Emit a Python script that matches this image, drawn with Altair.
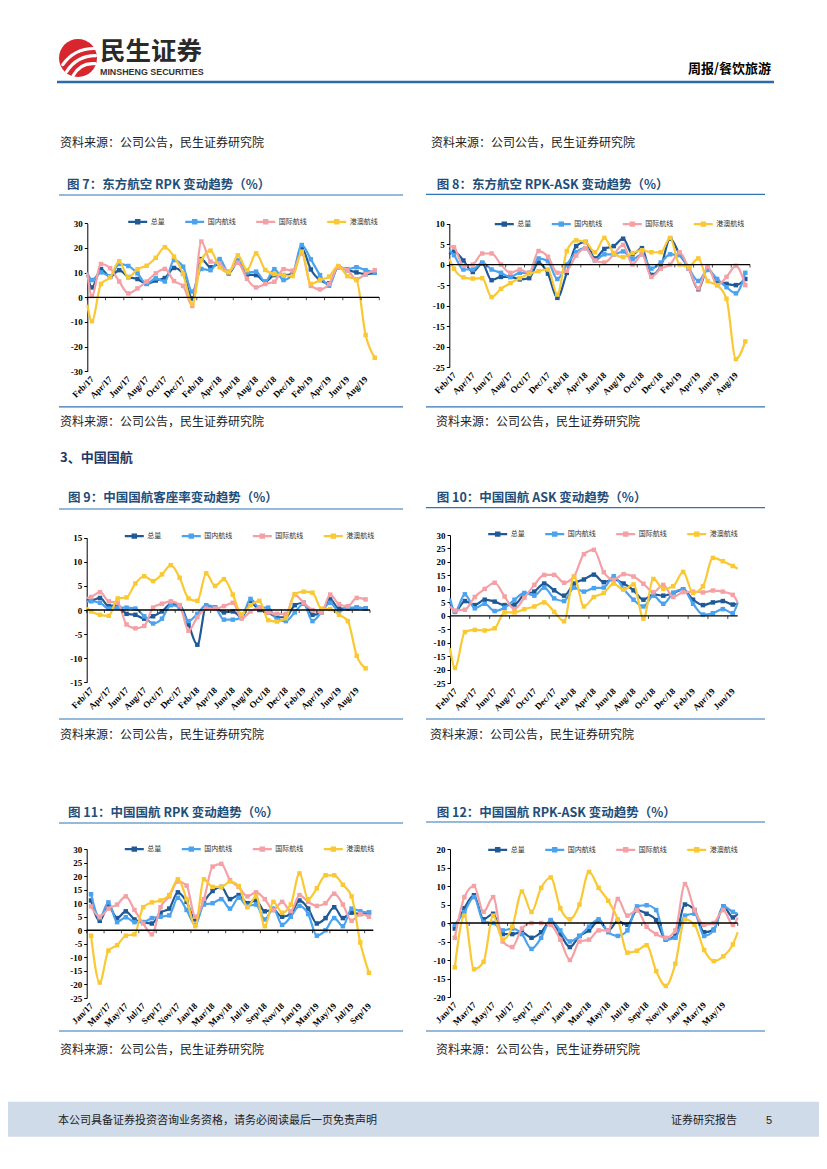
import json
import altair as alt
import pandas as pd

W, H = 811, 1153
CJK = "Noto Sans CJK SC"
SERIF = "Liberation Serif"

SERIES = ["总量", "国内航线", "国际航线", "港澳航线"]
COLORS = ["#1f5a96", "#4ba3ef", "#f4a0a5", "#fac832"]
LINE_BLUE = "#2e75b6"
TITLE_BLUE = "#1f4e79"

M_FEB17 = ["Feb/17", "Mar/17", "Apr/17", "May/17", "Jun/17", "Jul/17", "Aug/17", "Sep/17",
           "Oct/17", "Nov/17", "Dec/17", "Jan/18", "Feb/18", "Mar/18", "Apr/18", "May/18",
           "Jun/18", "Jul/18", "Aug/18", "Sep/18", "Oct/18", "Nov/18", "Dec/18", "Jan/19",
           "Feb/19", "Mar/19", "Apr/19", "May/19", "Jun/19", "Jul/19", "Aug/19", "Sep/19"]
M_JAN17 = ["Jan/17", "Feb/17", "Mar/17", "Apr/17", "May/17", "Jun/17", "Jul/17", "Aug/17",
           "Sep/17", "Oct/17", "Nov/17", "Dec/17", "Jan/18", "Feb/18", "Mar/18", "Apr/18",
           "May/18", "Jun/18", "Jul/18", "Aug/18", "Sep/18", "Oct/18", "Nov/18", "Dec/18",
           "Jan/19", "Feb/19", "Mar/19", "Apr/19", "May/19", "Jun/19", "Jul/19", "Aug/19", "Sep/19"]

# ---- Fig 7: China Eastern RPK (%) ----
f7_total = [4, 11.4, 8.3, 11, 8.2, 7.4, 5.5, 6.8, 7.8, 11.9, 9.5, -0.5, 15.5, 12.2, 13.5, 9.7,
            14.2, 9.2, 9, 6.3, 9, 9, 9.4, 19.9, 11.3, 7, 5.7, 12.2, 11, 10.1, 9.4, 10]
f7_dom = [7, 10.1, 8.5, 13.5, 12.7, 9.7, 5.4, 7.7, 6.4, 15.1, 12.4, 2.3, 11.5, 11, 15.5, 10,
          15, 10, 10.4, 6.3, 11.4, 7, 9.4, 21.2, 15.4, 9, 4.7, 12.4, 11.4, 12.2, 11, 10]
f7_intl = [0.5, 13.5, 11.8, 6.4, 1.6, 3.6, 6.4, 9.7, 11.5, 6.6, 4.6, -3.5, 22.6, 14.5, 13.5, 10.5,
           14, 7.5, 4, 5.4, 6.3, 11.4, 10.8, 17.8, 4.6, 3.2, 5.4, 12.2, 11, 7.3, 9.4, 11]
f7_hkmo = [-9.7, 5.4, 8.1, 14.6, 8.1, 11.4, 12.8, 16, 20.3, 16.5, 9.5, -2.7, 14.9, 18.9, 12.2, 10.1,
           17, 11, 17.8, 11.1, 9.4, 9, 8.6, 18.5, 5.4, 7, 8.4, 12.7, 8.6, 7, -15.3, -24.5]
f7_lead = [9, 10, 10, -3]

# ---- Fig 8: China Eastern RPK-ASK (%) ----
f8_total = [3.2, 1.0, -1.8, 0.3, -3.8, -3.0, -3.0, -3.6, -3.3, 0.5, -2.2, -8.1, -2.0, 4.5, 5.5, 1.5,
            3.8, 4.5, 6.3, 2.5, 4.0, -2.5, -0.5, 6.3, 2.5, -1.0, -6.0, -1.0, -4.0, -4.7, -5.0, -3.5]
f8_dom = [2.3, -1.2, -1.2, 0.5, -1.2, -2.0, -3.0, -2.0, -2.0, 1.5, 0.8, -3.5, 0.0, 3.0, 4.0, 1.0,
          2.5, 2.5, 3.2, 1.3, 2.5, -1.0, 0.5, 2.5, 2.3, -1.0, -4.0, -1.3, -3.5, -5.5, -7.0, -2.0]
f8_intl = [4.2, -0.3, 0.0, 2.7, 2.7, 0.0, -2.0, -1.2, -2.0, 3.3, 1.9, -2.0, -1.5, 2.2, 4.0, 1.0,
           0.5, 2.5, 4.8, 0.0, 2.5, -3.0, -1.0, 0.0, 3.0, -1.0, -5.8, -0.5, -5.0, -3.0, -0.3, -5.0]
f8_hkmo = [-1.0, -3.1, -3.4, -3.3, -7.9, -5.9, -4.5, -3.3, -2.3, -1.6, -1.2, -7.3, 3.3, 5.9, 5.5, 3.0,
           6.5, 2.8, 1.8, 2.8, 3.5, 3.0, 3.0, 6.5, 0.0, -0.5, 1.5, -4.0, -5.0, -8.3, -23.0, -18.7]
f8_lead = [2.5, 3.5, 4.5, 1.4]

# ---- Fig 9: Air China load factor change (%) ----
f9_total = [2.0, 2.5, 0.8, 1.0, -0.8, -1.0, -1.8, -1.3, -0.3, 1.2, 1.0, -3.0, -7.2, 0.8, 0.5, -0.5,
            -0.3, -1.5, 1.5, 0.0, -0.5, -1.5, -1.5, 1.0, 1.5, -1.0, -0.5, 2.2, 0.3, 0.3, 0.5, 0.3]
f9_dom = [1.8, 1.5, 0.3, 0.5, 0.5, 0.3, -1.3, -2.8, -1.8, 1.0, 0.5, -2.3, -0.8, 1.0, 0.5, -2.0,
          -2.0, -1.5, 2.3, 0.5, 0.5, -2.0, -2.3, -0.5, 1.3, -2.3, -0.5, 1.5, -0.3, 0.5, 0.5, 0.3]
f9_intl = [2.7, 3.7, 1.8, 1.5, -3.0, -3.8, -3.3, 0.5, 1.3, 1.8, 1.0, -4.3, -1.5, 0.3, 0.3, 0.8,
           1.5, -1.8, -0.3, 0.5, -0.5, -0.8, -0.8, 3.2, 1.5, 0.0, -0.5, 3.2, 1.2, 0.8, 2.5, 2.2]
f9_hkmo = [-0.3, -1.0, -1.2, 2.4, 2.6, 5.5, 7.0, 6.0, 7.4, 9.3, 6.7, 2.4, 1.9, 7.6, 5.0, 6.4,
           3.2, -0.9, 1.0, 1.9, -2.1, -2.4, -1.7, 3.3, 3.8, 3.6, 0.3, 0.2, -1.0, -2.3, -9.5, -12.1]
f9_lead = [2.0, 1.8, 2.5, 0.5]

# ---- Fig 10: Air China ASK (%) ----
f10_total = [1.5, 5.5, 4.0, 6.0, 5.3, 4.0, 4.2, 8.0, 9.0, 12.0, 9.5, 7.5, 12.0, 13.5, 15.3,
             12.5, 13.5, 12.0, 9.5, 6.0, 8.0, 7.5, 8.5, 9.8, 6.0, 4.0, 5.0, 5.5, 4.2]
f10_dom = [1.5, 8.0, 2.8, 4.5, 1.8, 3.0, 6.0, 8.5, 7.5, 10.5, 6.5, 5.5, 10.5, 9.0, 10.3,
           10.5, 14.7, 10.0, 6.0, 3.5, 7.5, 4.5, 8.5, 9.8, 4.5, 0.5, 1.0, 2.5, 1.0]
f10_intl = [2.0, 2.3, 7.0, 10.0, 12.3, 7.2, 2.5, 6.8, 11.5, 15.2, 15.2, 12.3, 14.6, 22.9, 24.5,
            16.2, 13.4, 15.5, 14.6, 11.9, 8.8, 11.5, 7.0, 8.8, 9.0, 8.7, 9.4, 9.0, 7.8]
f10_hkmo = [-19.3, -6.0, -5.2, -5.4, -4.6, 1.3, 1.3, 2.5, 3.5, 5.0, 1.5, -2.0, 14.5, 3.5, 7.0,
            8.5, 12.0, 9.7, 11.7, -1.0, 13.7, 10.0, 11.0, 16.3, 8.5, 11.0, 21.5, 20.3, 18.5]
f10_lead = [5.0, 6.5, 3.5, -12.0]
f10_trail = [4.5, 5.0, 5.0, 17.5]

# ---- Fig 11: Air China RPK (%) ----
f11_total = [11.0, 3.5, 9.0, 4.5, 7.0, 4.0, 3.0, 2.5, 6.5, 8.0, 14.0, 10.5, 4.0, 10.5, 14.5, 16.0,
             11.5, 13.0, 10.0, 11.0, 7.0, 7.5, 5.0, 6.0, 11.0, 8.0, 2.5, 4.5, 8.5, 4.5, 6.5, 6.0, 6.5]
f11_dom = [13.3, 4.5, 10.3, 3.0, 4.8, 3.0, 3.0, 4.5, 5.0, 5.5, 12.0, 7.5, 2.0, 9.5, 10.0, 11.5,
           8.0, 12.0, 9.0, 9.5, 4.0, 8.0, 2.0, 5.0, 9.0, 6.0, -2.0, 0.0, 4.5, 1.5, 8.0, 7.0, 6.5]
f11_intl = [8.8, 5.0, 8.0, 9.5, 12.5, 7.5, 2.5, -1.5, 8.5, 12.5, 18.0, 16.5, 5.0, 11.5, 23.5, 24.5,
            18.5, 16.0, 12.5, 14.0, 11.5, 7.5, 10.5, 7.0, 13.0, 10.5, 9.0, 10.0, 13.5, 9.5, 3.5, 6.0, 5.0]
f11_hkmo = [-2.0, -19.3, -7.5, -5.5, -2.0, -1.5, 8.5, 10.3, 11.0, 13.0, 18.8, 11.5, 1.5, 18.8, 16.0, 16.0,
            18.0, 16.3, 8.5, 12.5, 1.5, 10.5, 6.5, 9.5, 21.0, 11.5, 15.5, 20.3, 20.3, 16.8, 12.5, -4.5, -15.7]

# ---- Fig 12: Air China RPK-ASK (%) ----
f12_total = [-1.5, 4.0, 7.5, 1.0, 2.5, -3.0, -3.0, -2.5, -4.0, -2.5, 0.5, -3.0, -6.5, -3.5, -2.0,
             0.5, -2.0, 0.5, -0.5, 3.5, 2.5, 0.8, -4.5, -3.5, 5.0, 3.5, -2.5, -1.8, 4.5, 1.5]
f12_dom = [-0.5, 3.0, 7.0, 0.3, 0.0, -2.0, -1.5, -3.0, -7.0, -4.0, 0.8, -2.0, -5.0, -3.5, -1.0,
           1.0, -2.5, -3.5, -2.0, 4.5, 4.8, 3.5, -4.5, -4.0, 2.0, 2.5, -3.5, -2.0, 4.5, 3.0]
f12_intl = [-4.0, 7.0, 10.0, 3.0, 7.0, -5.0, -6.5, -1.5, 0.0, 0.0, -0.5, -4.5, -10.0, -5.0, -4.5,
            -2.0, -2.0, 6.5, 2.0, 3.5, -1.0, -3.0, -4.0, -2.0, 10.5, 3.5, -0.5, 0.0, 3.5, -0.5]
f12_hkmo = [-12.0, 2.0, -12.5, -10.5, 2.0, -4.5, -1.0, 8.5, 3.0, 9.5, 12.3, 4.0, 1.0, 5.0, 13.8,
            9.5, 6.0, 1.0, -8.0, -7.5, -6.0, -13.0, -17.0, -11.0, 1.0, -0.5, -7.3, -10.3, -9.0, -5.8]
f12_trail = [2.5, 2.5, 1.5, -2.5]

# ---- page texts ----
T7 = "图 7：东方航空 RPK 变动趋势（%）"
T8 = "图 8：东方航空 RPK-ASK 变动趋势（%）"
T9 = "图 9：中国国航客座率变动趋势（%）"
T10 = "图 10：中国国航 ASK 变动趋势（%）"
T11 = "图 11：中国国航 RPK 变动趋势（%）"
T12 = "图 12：中国国航 RPK-ASK 变动趋势（%）"
SRC = "资料来源：公司公告，民生证券研究院"
SECTION = "3、中国国航"
BRAND = "民生证券"
BRAND_EN = "MINSHENG SECURITIES"
HEADER_RIGHT = "周报/餐饮旅游"
FOOT_L = "本公司具备证券投资咨询业务资格，请务必阅读最后一页免责声明"
FOOT_R = "证券研究报告"
PAGE_NO = "5"

ONE = pd.DataFrame({"k": [0]})

LEGEND_PATH = "M-1,0L1,0M-0.16,-0.16L0.16,-0.16L0.16,0.16L-0.16,0.16Z"


def panel(months, vals, lead, trail, ydom, ystep, xr, yr, leg):
    n = len(months)
    recs = []
    for s, arr in zip(SERIES, vals):
        for i, v in enumerate(arr):
            recs.append({"s": s, "x": float(i), "v": v, "pt": 1})
    if lead:
        for s, v in zip(SERIES, lead):
            recs.append({"s": s, "x": -0.5, "v": v, "pt": 0})
    if trail:
        for s, v in zip(SERIES, trail):
            recs.append({"s": s, "x": n - 0.5, "v": v, "pt": 0})
    df = pd.DataFrame(recs)

    xs = alt.Scale(domain=[-0.5, n - 0.5], range=[xr[0], xr[1]], nice=False, zero=False)
    ys = alt.Scale(domain=[ydom[0], ydom[1]], range=[yr[1], yr[0]], nice=False, zero=False)
    xax = alt.Axis(orient="bottom", offset=yr[1] - H, values=list(range(0, n, 2)),
                   labelExpr=json.dumps(months) + "[datum.value]",
                   labelAngle=-45, labelAlign="right", labelBaseline="middle",
                   labelFont=SERIF, labelFontWeight="bold", labelFontSize=9,
                   labelColor="#000000", labelPadding=6, labelOverlap=False,
                   labelFlush=False, ticks=False, domain=False, grid=False, title=None)
    yax = alt.Axis(orient="left", offset=-xr[0],
                   values=list(range(ydom[0], ydom[1] + 1, ystep)),
                   labelExpr="datum.value < 0 ? '-' + (-datum.value) : '' + datum.value",
                   labelFont=SERIF, labelFontWeight="bold", labelFontSize=9,
                   labelColor="#000000", labelPadding=2, tickSize=3, tickColor="#000000",
                   domainColor="#000000", domainWidth=1, grid=False, title=None)
    lg = alt.Legend(orient="none", legendX=leg[0], legendY=leg[1] - 9.5, direction="horizontal",
                    title=None, symbolType=LEGEND_PATH, symbolSize=361, symbolStrokeWidth=2.4,
                    labelFont=CJK, labelFontSize=7, labelColor="#333333", labelOffset=2,
                    columnPadding=15, padding=0, symbolOpacity=1)
    col = alt.Color("s:N", scale=alt.Scale(domain=SERIES, range=COLORS), legend=lg)

    layers = []
    for s in SERIES:
        d = df[df.s == s]
        layers.append(
            alt.Chart(d).mark_line(interpolate="monotone", strokeWidth=2.2).encode(
                x=alt.X("x:Q", scale=xs, axis=xax),
                y=alt.Y("v:Q", scale=ys, axis=yax),
                color=col))
        layers.append(
            alt.Chart(d[d.pt == 1]).mark_square(size=20, opacity=1).encode(
                x=alt.X("x:Q", scale=xs, axis=xax),
                y=alt.Y("v:Q", scale=ys, axis=yax),
                color=col))
    zero = alt.Chart(ONE).mark_rule(color="#000000", strokeWidth=1.3).encode(
        x=alt.XDatum(-0.5, scale=xs, axis=xax),
        x2=alt.X2Datum(n - 0.5),
        y=alt.YDatum(0, scale=ys, axis=yax))
    tick_pos = [t - 0.5 for t in range(0, n + 1, 2)]
    ticks = alt.Chart(pd.DataFrame({"t": tick_pos})).mark_tick(
        orient="vertical", size=3, thickness=1, color="#000000", yOffset=1.5).encode(
        x=alt.X("t:Q", scale=xs, axis=xax),
        y=alt.YDatum(0, scale=ys, axis=yax))
    layers += [zero, ticks]
    return alt.layer(*layers)


def text(x, y, s, size, color="#000000", weight="normal", font=CJK, align="left"):
    return alt.Chart(ONE).mark_text(text=s, fontSize=size, font=font, fontWeight=weight,
                                    color=color, align=align, baseline="middle").encode(
        x=alt.value(x), y=alt.value(y))


def hrule(x1, x2, y, color=LINE_BLUE, width=1.2):
    return alt.Chart(ONE).mark_rule(color=color, strokeWidth=width).encode(
        x=alt.value(x1), x2=alt.value(x2), y=alt.value(y))


def rect(x1, x2, y1, y2, color):
    return alt.Chart(ONE).mark_rect(color=color).encode(
        x=alt.value(x1), x2=alt.value(x2), y=alt.value(y1), y2=alt.value(y2))


decor = [
    # header
    alt.Chart(ONE).mark_point(shape="circle", size=1444, filled=True, color="#d7262e", opacity=1).encode(
        x=alt.value(70), y=alt.value(50)),
    alt.Chart(ONE).mark_point(
        shape="M-0.8,0.35Q-0.2,-0.5 0.85,-0.5M-0.6,0.72Q-0.05,-0.12 0.92,-0.12M-0.25,0.92Q0.15,0.22 0.9,0.3",
        size=1444, filled=False, color="#ffffff", strokeWidth=3.2, opacity=1, strokeCap="round").encode(
        x=alt.value(70), y=alt.value(50)),
    text(92, 44, BRAND, 25.5, color="#2a2a2a", weight="bold"),
    text(92, 63.5, BRAND_EN, 8.9, color="#333333", weight="bold", font="Liberation Sans"),
    text(763, 61, HEADER_RIGHT, 13, weight="bold", align="right"),
    hrule(49, 766, 74, color="#2a6aad", width=2.6),
    text(52, 135, SRC, 12, color="#222222"),
    text(423, 135, SRC, 12, color="#222222"),
    # row 1 titles
    text(59, 177, T7, 12.5, color=TITLE_BLUE, weight="bold"),
    hrule(51, 395, 187),
    text(428.7, 177, T8, 12.5, color=TITLE_BLUE, weight="bold"),
    hrule(418, 757, 186.3),
    hrule(51, 395, 398.8),
    hrule(418, 757, 398.8),
    text(52, 414, SRC, 12, color="#222222"),
    text(428, 414, SRC, 12, color="#222222"),
    text(52, 450, SECTION, 13, color="#1f3864", weight="bold"),
    # row 2 titles
    text(60, 490.3, T9, 12.5, color=TITLE_BLUE, weight="bold"),
    hrule(51, 395, 501),
    text(428.7, 490.3, T10, 12.5, color=TITLE_BLUE, weight="bold"),
    hrule(418, 757, 499.7),
    hrule(51, 395, 711),
    hrule(418, 757, 711),
    text(52, 727, SRC, 12, color="#222222"),
    text(422, 727, SRC, 12, color="#222222"),
    # row 3 titles
    text(60, 805, T11, 12.5, color=TITLE_BLUE, weight="bold"),
    hrule(51, 395, 815),
    text(428.7, 805, T12, 12.5, color=TITLE_BLUE, weight="bold"),
    hrule(418, 757, 814),
    hrule(51, 395, 1023),
    hrule(418, 757, 1023),
    text(52, 1042, SRC, 12, color="#222222"),
    text(428, 1042, SRC, 12, color="#222222"),
    # footer
    rect(0, 811, 1093.7, 1128.7, "#cfdbe9"),
    text(50, 1113, FOOT_L, 11, color="#222222"),
    text(663, 1113, FOOT_R, 11, color="#222222"),
    text(758, 1113, PAGE_NO, 11, color="#222222", font="Liberation Sans"),
]

p7 = panel(M_FEB17, [f7_total, f7_dom, f7_intl, f7_hkmo], f7_lead, None,
           (-30, 30), 10, (79.3, 371.3), (215.3, 363.3), (118.7, 212))
p8 = panel(M_FEB17, [f8_total, f8_dom, f8_intl, f8_hkmo], f8_lead, None,
           (-25, 10), 5, (441.3, 742), (215.5, 359.3), (485.3, 214.3))
p9 = panel(M_FEB17, [f9_total, f9_dom, f9_intl, f9_hkmo], f9_lead, None,
           (-15, 15), 5, (78.7, 362), (529.7, 674.3), (115.3, 526.3))
p10 = panel(M_FEB17[:29], [f10_total, f10_dom, f10_intl, f10_hkmo], f10_lead, f10_trail,
            (-25, 30), 5, (442, 729.7), (527, 675.3), (478.7, 524.3))
p11 = panel(M_JAN17, [f11_total, f11_dom, f11_intl, f11_hkmo], None, None,
            (-25, 30), 5, (78.7, 365.3), (841, 990), (115.3, 839.3))
p12 = panel(M_JAN17[:30], [f12_total, f12_dom, f12_intl, f12_hkmo], None, f12_trail,
            (-20, 20), 5, (442, 729.7), (841, 989), (478.7, 840))

chart = alt.layer(*decor, p7, p8, p9, p10, p11, p12).resolve_scale(
    x="independent", y="independent", color="independent"
).properties(
    width=W, height=H, padding=0, background="white",
    autosize=alt.AutoSizeParams(type="none")
).configure_view(strokeWidth=0)

chart.save("out.html", embed_options={"renderer": "svg", "actions": False})
